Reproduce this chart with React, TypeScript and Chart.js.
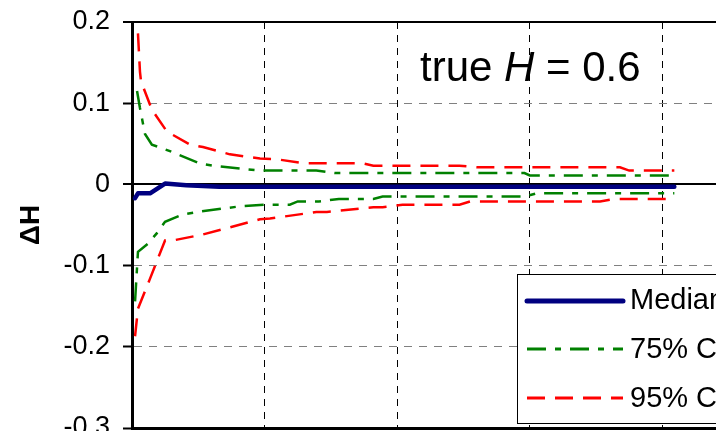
import React, { useEffect, useRef } from "react";
import { Chart, registerables } from "chart.js";

Chart.register(...registerables);

const FONT = "'Liberation Sans', Arial, sans-serif";

// ---- data (x in sample units, y = ΔH) ----
const medianX = [2.3, 4.5, 13.6, 24.9, 41, 66, 409];
const medianY = [-0.017, -0.011, -0.011, 0.001, -0.001, -0.003, -0.003];

const ci75UpperX = [3.8, 6, 9.8, 15, 28.6, 51, 61, 96.5, 139, 153, 296, 300, 409];
const ci75UpperY = [0.115, 0.094, 0.062, 0.049, 0.041, 0.026, 0.023, 0.017, 0.017, 0.014, 0.014, 0.011, 0.011];

const ci75LowerX = [2.3, 4.5, 12, 18.8, 24.9, 38.4, 49, 81.4, 100, 119, 125, 141, 156, 182, 189, 296, 305, 409];
const ci75LowerY = [-0.144, -0.083, -0.073, -0.06, -0.046, -0.037, -0.034, -0.027, -0.025, -0.025, -0.021, -0.021, -0.018, -0.018, -0.015, -0.015, -0.011, -0.011];

const ci95UpperX = [4.5, 6, 6.8, 15, 26.4, 43.7, 53.5, 73.8, 96.5, 109, 130, 174, 182, 247, 261, 368, 375, 409];
const ci95UpperY = [0.186, 0.139, 0.127, 0.092, 0.065, 0.049, 0.046, 0.037, 0.032, 0.031, 0.026, 0.026, 0.023, 0.023, 0.021, 0.021, 0.017, 0.017];

const ci95LowerX = [2.3, 4.5, 13.6, 24.9, 30.9, 52.7, 96.5, 104, 139, 147, 182, 189, 204, 247, 255, 353, 363, 409];
const ci95LowerY = [-0.187, -0.153, -0.116, -0.069, -0.069, -0.062, -0.043, -0.042, -0.034, -0.034, -0.028, -0.028, -0.025, -0.025, -0.021, -0.021, -0.018, -0.018];

const legendLabels = ["Median", "75% CI", "95% CI"];
const yAxisTitle = "ΔH";
const annotationParts = ["true ", "H", " = 0.6"];

const Y_MIN = -0.3;
const Y_MAX = 0.2;
const Y_STEP = 0.1;
const X_MIN = 0;
const X_MAX = 500;
const X_STEP = 100;

const NAVY = "#000080";
const GREEN = "#008000";
const RED = "#FF0000";
const DASH_95 = [18, 10];
const DASH_75 = [19, 9, 6, 9];

const pts = (xs: number[], ys: number[]) => xs.map((x, i) => ({ x, y: ys[i] }));

const overlayPlugin = {
  id: "overlay",
  afterDraw(chart: any) {
    const { ctx, chartArea } = chart;
    ctx.save();

    // y-axis title
    ctx.save();
    ctx.translate(31, (chartArea.top + chartArea.bottom) / 2);
    ctx.rotate(-Math.PI / 2);
    ctx.font = `bold 28px ${FONT}`;
    ctx.fillStyle = "#000";
    ctx.textAlign = "center";
    ctx.textBaseline = "middle";
    ctx.fillText(yAxisTitle, 0, 0);
    ctx.restore();

    // annotation
    let ax = chartArea.left + 288;
    const ay = chartArea.top + 59;
    ctx.fillStyle = "#000";
    ctx.textAlign = "left";
    ctx.textBaseline = "alphabetic";
    annotationParts.forEach((p, i) => {
      ctx.font = (i === 1 ? "italic " : "") + `42px ${FONT}`;
      ctx.fillText(p, ax, ay);
      ax += ctx.measureText(p).width;
    });

    // legend box
    const bx = chartArea.left + 385;
    const by = chartArea.top + 252;
    const bw = chartArea.right - 5 - bx;
    const bh = 149;
    ctx.fillStyle = "#fff";
    ctx.fillRect(bx, by, bw, bh);
    ctx.strokeStyle = "#000";
    ctx.lineWidth = 1;
    ctx.setLineDash([]);
    ctx.strokeRect(bx + 0.5, by + 0.5, bw, bh);

    const styles = [
      { color: NAVY, width: 5, dash: [] as number[], cap: "round" },
      { color: GREEN, width: 3, dash: DASH_75, cap: "butt" },
      { color: RED, width: 3, dash: DASH_95, cap: "butt" },
    ];
    const lineYs = [27, 75, 124];
    const textYs = [35, 84, 133];
    legendLabels.forEach((lab, i) => {
      const s = styles[i];
      ctx.save();
      ctx.strokeStyle = s.color;
      ctx.lineWidth = s.width;
      ctx.lineCap = s.cap;
      ctx.setLineDash(s.dash);
      ctx.beginPath();
      ctx.moveTo(bx + 10, by + lineYs[i]);
      ctx.lineTo(bx + 106, by + lineYs[i]);
      ctx.stroke();
      ctx.restore();
      ctx.font = `29px ${FONT}`;
      ctx.fillStyle = "#000";
      ctx.textAlign = "left";
      ctx.textBaseline = "alphabetic";
      ctx.fillText(lab, bx + 113, by + textYs[i]);
    });

    ctx.restore();
  },
};

const isVal = (v: number, t: number) => Math.abs(v - t) < 1e-9;

export default function App() {
  const ref = useRef<HTMLCanvasElement | null>(null);

  useEffect(() => {
    if (!ref.current) return;
    const chart = new Chart(ref.current, {
      type: "line",
      data: {
        datasets: [
          {
            label: legendLabels[0],
            data: pts(medianX, medianY),
            borderColor: NAVY,
            borderWidth: 4.5,
            borderCapStyle: "round",
            borderJoinStyle: "round",
            pointRadius: 0,
            tension: 0,
          },
          {
            label: legendLabels[1],
            data: pts(ci75UpperX, ci75UpperY),
            borderColor: GREEN,
            borderWidth: 2.5,
            borderDash: DASH_75,
            pointRadius: 0,
            tension: 0,
          },
          {
            label: legendLabels[1] + " lower",
            data: pts(ci75LowerX, ci75LowerY),
            borderColor: GREEN,
            borderWidth: 2.5,
            borderDash: DASH_75,
            pointRadius: 0,
            tension: 0,
          },
          {
            label: legendLabels[2],
            data: pts(ci95UpperX, ci95UpperY),
            borderColor: RED,
            borderWidth: 2.5,
            borderDash: DASH_95,
            pointRadius: 0,
            tension: 0,
          },
          {
            label: legendLabels[2] + " lower",
            data: pts(ci95LowerX, ci95LowerY),
            borderColor: RED,
            borderWidth: 2.5,
            borderDash: DASH_95,
            pointRadius: 0,
            tension: 0,
          },
        ],
      },
      options: {
        animation: false,
        responsive: false,
        devicePixelRatio: 1,
        layout: { padding: { top: 22, right: 25, bottom: 0, left: 0 } },
        plugins: { legend: { display: false }, tooltip: { enabled: false }, title: { display: false } },
        scales: {
          x: {
            type: "linear",
            min: X_MIN,
            max: X_MAX,
            ticks: { stepSize: X_STEP, display: false },
            grid: { color: "#000", lineWidth: 1, drawTicks: false },
            border: { display: true, color: "#000", width: 3, dash: [7, 6] },
            afterFit: (s: any) => {
              s.height = 52;
              s.paddingLeft = 0;
              s.paddingRight = 0;
            },
          },
          y: {
            type: "linear",
            min: Y_MIN,
            max: Y_MAX,
            ticks: {
              stepSize: Y_STEP,
              padding: 13,
              color: "#000",
              font: { family: FONT, size: 27 },
              callback: (v: any) => String(parseFloat(Number(v).toFixed(1))),
            },
            grid: {
              color: (c: any) => {
                const v = c.tick ? c.tick.value : 1;
                return isVal(v, 0) || isVal(v, Y_MAX) ? "#000" : "#808080";
              },
              lineWidth: (c: any) => {
                const v = c.tick ? c.tick.value : 1;
                return isVal(v, 0) || isVal(v, Y_MAX) ? 2 : 1;
              },
              tickLength: 9,
              tickColor: "#000",
              tickWidth: 2,
            },
            border: {
              display: true,
              color: "#000",
              width: 3,
              dash: (c: any) => {
                const v = c && c.tick ? c.tick.value : 0;
                return isVal(v, 0) || isVal(v, Y_MAX) ? [] : [8, 7];
              },
            },
            afterFit: (s: any) => {
              s.width = 132;
              s.paddingTop = 0;
              s.paddingBottom = 0;
            },
          },
        },
      },
      plugins: [overlayPlugin],
    } as any);
    return () => chart.destroy();
  }, []);

  return (
    <div
      style={{
        position: "fixed",
        left: 0,
        top: 0,
        width: 716,
        height: 431,
        overflow: "hidden",
        background: "#fff",
      }}
    >
      <canvas
        ref={ref}
        width={820}
        height={480}
        style={{ position: "absolute", left: 0, top: 0, width: 820, height: 480 }}
      />
    </div>
  );
}
